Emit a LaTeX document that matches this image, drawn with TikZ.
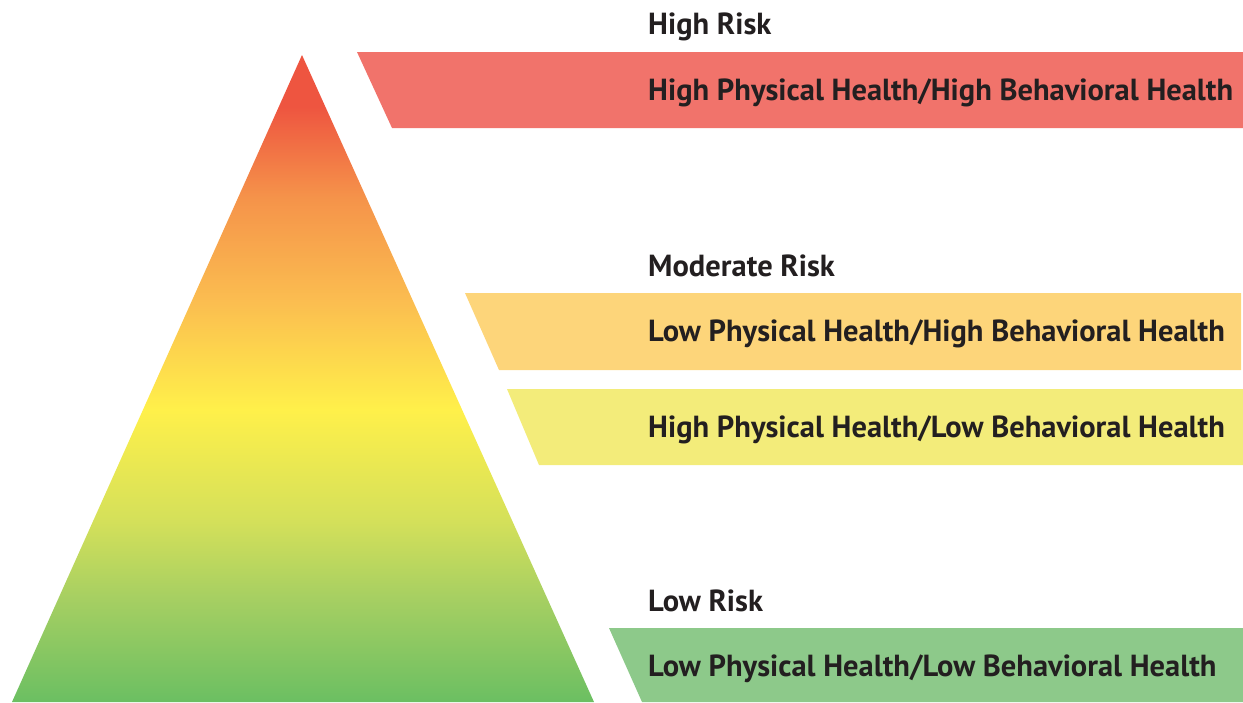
\documentclass[tikz,border=0pt]{standalone}
\usepackage{fontspec}
\setmainfont{PT Sans}
\usepackage{xcolor}
\usetikzlibrary{positioning}

\definecolor{inkdark}{HTML}{231F20}
\definecolor{bandhigh}{HTML}{F1736B}
\definecolor{bandmodA}{HTML}{FDD57A}
\definecolor{bandmodB}{HTML}{F3EC7A}
\definecolor{bandlow}{HTML}{8DC98A}
\definecolor{trired}{HTML}{EE5540}
\definecolor{triorange}{HTML}{F5934A}
\definecolor{trilight}{HTML}{FBBD50}
\definecolor{triyellow}{HTML}{FFF04A}
\definecolor{trilime}{HTML}{D4E05A}
\definecolor{trigreenA}{HTML}{A6CF62}
\definecolor{trigreenB}{HTML}{6BBF62}

\pgfdeclareverticalshading{riskgrad}{100bp}{%
  color(0bp)=(trigreenB); color(25bp)=(trigreenB);
  color(33bp)=(trigreenA); color(39bp)=(trilime);
  color(47.6bp)=(triyellow); color(56bp)=(trilight);
  color(64bp)=(triorange); color(71bp)=(trired);
  color(75bp)=(trired); color(100bp)=(trired)}

\begin{document}
\begin{tikzpicture}[x=1pt, y=-1pt,
  head/.style={font=\fontsize{30.5}{33}\selectfont\bfseries, text=inkdark,
               anchor=base west, inner sep=0pt},
  bandtext/.style={head},
]
  \useasboundingbox (0,0) rectangle (1243,702);
  %% pyramid
  \shade[shading=riskgrad] (302,55) -- (594,702) -- (12,702) -- cycle;
  %% high risk
  \fill[bandhigh] (357,52) -- (1243,52) -- (1243,128) -- (392,128) -- cycle;
  \node[head]     (hhead) at (648,34) {High Risk};
  \node[bandtext] (htext) at (648,100) {High Physical Health/High Behavioral Health};
  %% moderate risk
  \fill[bandmodA] (465,293) -- (1241,293) -- (1241,370) -- (499,370) -- cycle;
  \fill[bandmodB] (507,389) -- (1243,389) -- (1243,465) -- (539,465) -- cycle;
  \node[head]     (mhead) at (648,276) {Moderate Risk};
  \node[bandtext] (mtextA) at (648,341) {Low Physical Health/High Behavioral Health};
  \node[bandtext] (mtextB) at (648,437) {High Physical Health/Low Behavioral Health};
  %% low risk
  \fill[bandlow] (609,628) -- (1243,628) -- (1243,702) -- (642,702) -- cycle;
  \node[head]     (lhead) at (648,611) {Low Risk};
  \node[bandtext] (ltext) at (648,676) {Low Physical Health/Low Behavioral Health};
\end{tikzpicture}
\end{document}
